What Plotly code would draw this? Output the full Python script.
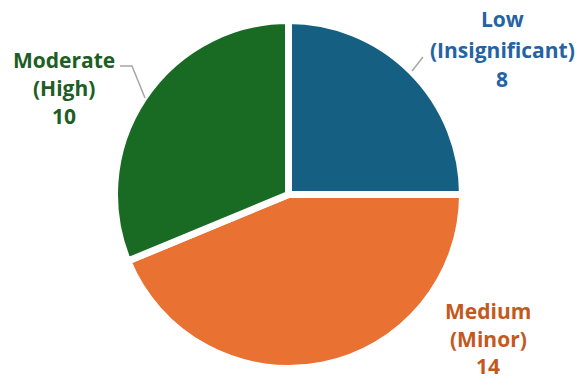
import plotly.graph_objects as go

categories = ["Low", "Medium", "Moderate"]
subtitles = ["(Insignificant)", "(Minor)", "(High)"]
values = [8, 14, 10]
slice_colors = ["#156082", "#E97132", "#196B24"]
text_colors = ["#2563A3", "#C4591D", "#1E5E24"]

W, H = 579, 381

def px(x):
    return x / W

def py(y):
    return 1 - y / H

fig = go.Figure(go.Pie(
    values=values,
    labels=[f"{c} {s}" for c, s in zip(categories, subtitles)],
    sort=False,
    direction="clockwise",
    rotation=0,
    textinfo="none",
    hoverinfo="label+value",
    marker=dict(colors=slice_colors, line=dict(color="white", width=7)),
    domain=dict(x=[px(114.5), px(462.5)], y=[py(368.5), py(20.5)]),
    showlegend=False,
))

# label block centre x and y of the three lines (pixels)
label_pos = [(502, (19, 50, 79)), (488, (311, 339, 366)), (64, (60, 88, 116))]
annotations = []
for cat, sub, val, col, (lx, ys) in zip(categories, subtitles, values, text_colors, label_pos):
    for txt, ly in zip([cat, sub, str(val)], ys):
        annotations.append(dict(
            x=px(lx), y=py(ly), xref="paper", yref="paper",
            text=f"<b>{txt}</b>", showarrow=False,
            xanchor="center", yanchor="middle", align="center",
            font=dict(family="Open Sans", size=21, color=col),
        ))

shapes = [
    dict(type="path", xref="paper", yref="paper",
         path=f"M {px(412)} {py(71)} L {px(423)} {py(57)}",
         line=dict(color="#A6A6A6", width=1.5)),
    dict(type="path", xref="paper", yref="paper",
         path=f"M {px(120)} {py(66)} L {px(132)} {py(66)} L {px(145)} {py(98)}",
         line=dict(color="#A6A6A6", width=1.5)),
]

fig.update_layout(
    width=W, height=H,
    margin=dict(l=0, r=0, t=0, b=0),
    paper_bgcolor="white",
    plot_bgcolor="white",
    annotations=annotations,
    shapes=shapes,
)

fig.write_html("out.html")
